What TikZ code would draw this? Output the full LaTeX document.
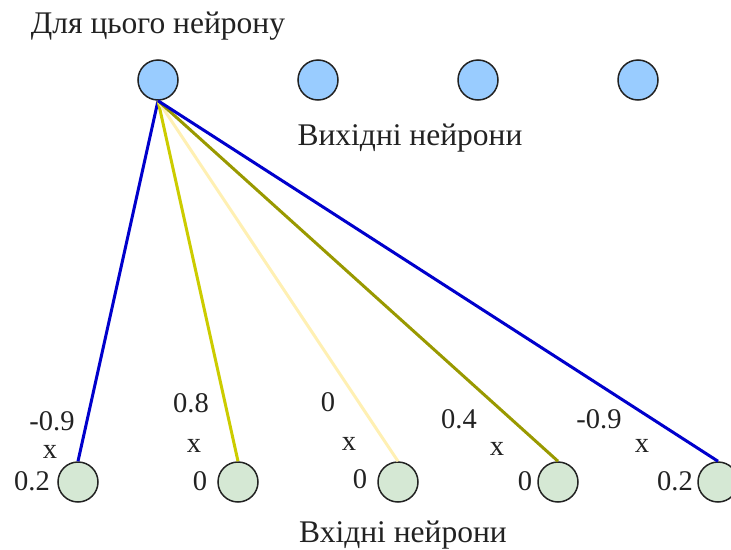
\documentclass[tikz,border=0pt]{standalone}
\usepackage{fontspec}
\setmainfont{Liberation Serif}
\definecolor{outfill}{HTML}{99CCFF}
\definecolor{infill}{HTML}{D5E8D4}
\definecolor{wblue}{HTML}{0000CC}
\definecolor{wyellow}{HTML}{CCCC00}
\definecolor{wpale}{HTML}{FFF0B3}
\definecolor{wolive}{HTML}{999900}
\definecolor{txt}{HTML}{222222}
\begin{document}
\begin{tikzpicture}[x=1pt,y=-1pt,
  outn/.style={circle,draw=txt,line width=1.5pt,fill=outfill,minimum size=40pt,inner sep=0pt},
  inn/.style={circle,draw=txt,line width=1.5pt,fill=infill,minimum size=40pt,inner sep=0pt},
  title/.style={font=\fontsize{31.5}{34}\selectfont,text=txt,anchor=base,inner sep=0pt},
  lab/.style={font=\fontsize{28.5}{31}\selectfont,text=txt,anchor=base,inner sep=0pt},
  wline/.style={line width=3pt}]
\useasboundingbox (0,0) rectangle (731,549);
\node[outn] (o1) at (158,80) {};
\node[outn] (o2) at (318,80) {};
\node[outn] (o3) at (478,80) {};
\node[outn] (o4) at (638,80) {};
\node[inn] (i1) at (78,482) {};
\node[inn] (i2) at (238,482) {};
\node[inn] (i3) at (398,482) {};
\node[inn] (i4) at (558,482) {};
\node[inn] (i5) at (718,482) {};
\draw[wline,wblue] (o1.south) -- (i1.north);
\draw[wline,wyellow] (o1.south) -- (i2.north);
\draw[wline,wpale] (o1.south) -- (i3.north);
\draw[wline,wolive] (o1.south) -- (i4.north);
\draw[wline,wblue] (o1.south) -- (i5.north);
\node[title] (t1) at (158,33) {Для цього нейрону};
\node[title] (t2) at (410,145) {Вихідні нейрони};
\node[title] (t3) at (403,542) {Вхідні нейрони};
\node[lab] (w1) at (52,430) {-0.9};
\node[lab] (x1) at (50,458) {x};
\node[lab] (v1) at (32,490) {0.2};
\node[lab] (w2) at (191,412) {0.8};
\node[lab] (x2) at (194,452) {x};
\node[lab] (v2) at (200,490) {0};
\node[lab] (w3) at (328,411) {0};
\node[lab] (x3) at (349,450) {x};
\node[lab] (v3) at (360,488) {0};
\node[lab] (w4) at (459,428) {0.4};
\node[lab] (x4) at (497,455) {x};
\node[lab] (v4) at (525,490) {0};
\node[lab] (w5) at (599,428) {-0.9};
\node[lab] (x5) at (642,452) {x};
\node[lab] (v5) at (675,490) {0.2};
\end{tikzpicture}
\end{document}
